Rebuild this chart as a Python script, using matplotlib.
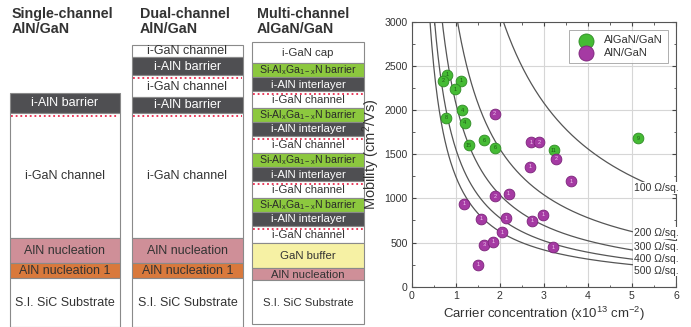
import numpy as np
import matplotlib
matplotlib.use("Agg")
import matplotlib.pyplot as plt
from matplotlib.patches import Rectangle
from matplotlib.ticker import MultipleLocator

plt.rcParams['font.family'] = ['Liberation Sans', 'DejaVu Sans']
plt.rcParams['mathtext.fontset'] = 'custom'
plt.rcParams['mathtext.rm'] = 'Liberation Sans'
plt.rcParams['mathtext.it'] = 'Liberation Sans'
plt.rcParams['mathtext.default'] = 'regular'

# ---------------- data ----------------
# AlGaN/GaN points: carrier concentration (1e13 cm^-2), mobility (cm2/Vs), ref label
algan_n = [0.80, 0.72, 1.12, 0.98, 1.15, 0.78, 1.20, 1.29, 1.65, 1.89, 3.22, 5.14]
algan_mu = [2400, 2330, 2330, 2235, 1997, 1913, 1857, 1602, 1659, 1572, 1545, 1678]
algan_lab = ["1", "2", "1", "1", "4", "8", "4", "15", "6", "6", "11", "9"]

aln_n = [1.88, 2.71, 2.90, 3.28, 2.69, 3.61, 1.19, 1.89, 2.20, 1.57, 2.14, 2.73,
         2.99, 2.06, 1.64, 1.84, 3.20, 1.50]
aln_mu = [1959, 1636, 1636, 1451, 1358, 1193, 940, 1023, 1050, 769, 777, 747,
          815, 614, 474, 511, 447, 247]
aln_lab = ["2", "1", "2", "2", "1", "1", "1", "2", "1", "1", "1", "1",
           "1", "1", "3", "1", "1", "1"]

# iso sheet-resistance curves (ohm/sq) and label positions
rsh_values = [100, 200, 300, 400, 500]
rsh_label_y = [1118, 607, 448, 311, 182]

x_ticks = [0, 1, 2, 3, 4, 5, 6]
y_ticks = [0, 500, 1000, 1500, 2000, 2500, 3000]

# layer stacks: (name, height px, style)
DARK, WHITE, PINK, ORANGE, GREEN, YELLOW = "dark", "white", "pink", "orange", "green", "yellow"
stack_single = [("i-AlN barrier", 20, DARK), ("i-GaN channel", 125, WHITE),
                ("AlN nucleation", 25, PINK), ("AlN nucleation 1", 15, ORANGE),
                ("S.I. SiC Substrate", 49, WHITE)]
stack_dual = [("i-GaN channel", 12, WHITE), ("i-AlN barrier", 18, DARK),
              ("i-GaN channel", 22, WHITE), ("i-AlN barrier", 16, DARK),
              ("i-GaN channel", 125, WHITE), ("AlN nucleation", 25, PINK),
              ("AlN nucleation 1", 15, ORANGE), ("S.I. SiC Substrate", 49, WHITE)]
barrier_txt = "Si-Al$_{x}$Ga$_{1-x}$N barrier"
stack_multi = [("i-GaN cap", 21, WHITE)]
for i in range(4):
    stack_multi += [(barrier_txt, 14, GREEN), ("i-AlN interlayer", 14, DARK),
                    ("i-GaN channel", 17, WHITE)]
stack_multi += [("GaN buffer", 25, YELLOW), ("AlN nucleation", 12, PINK),
                ("S.I. SiC Substrate", 44, WHITE)]

titles = ["Single-channel\nAlN/GaN", "Dual-channel\nAlN/GaN", "Multi-channel\nAlGaN/GaN"]

# ---------------- styling ----------------
fill = {DARK: "#4f4f52", WHITE: "#ffffff", PINK: "#cf8f98", ORANGE: "#d9793c",
        GREEN: "#8cc83e", YELLOW: "#f6f1a4"}
tcol = {DARK: "white", WHITE: "#333333", PINK: "#333333", ORANGE: "#333333",
        GREEN: "#2a2a2a", YELLOW: "#333333"}

W, H = 691, 327
fig = plt.figure(figsize=(W / 100, H / 100), dpi=100)

axL = fig.add_axes([0, 0, 1, 1])
axL.set_xlim(0, W)
axL.set_ylim(H, 0)
axL.axis("off")

columns = [
    (stack_single, 10, 120, 93, 9, 12),
    (stack_dual, 132, 243, 45, 9, 140),
    (stack_multi, 252, 364, 42, 8.2, 257),
]
for ci, (stack, x0, x1, top, fs, tx) in enumerate(columns):
    axL.text(tx, 7, titles[ci], ha="left", va="top", fontsize=10.3,
             fontweight="bold", color="#333333", linespacing=1.12)
    y = top
    for name, h, st in stack:
        axL.add_patch(Rectangle((x0, y), x1 - x0, h, facecolor=fill[st],
                                edgecolor="#8a8a8a", lw=0.8))
        size = fs
        if st == GREEN:
            size = 7.6
        axL.text((x0 + x1) / 2, y + h / 2 + 0.5, name, ha="center", va="center",
                 fontsize=size, color=tcol[st])
        if st == DARK:
            axL.plot([x0 + 1, x1 - 1], [y + h + 3, y + h + 3], color="#e8294c",
                     lw=1.3, ls=(0, (1, 1.6)))
        y += h

# ---------------- scatter ----------------
ax = fig.add_axes([0.5958, 0.1232, 0.9783 - 0.5958, 0.9336 - 0.1232])
ax.set_xlim(0, 6)
ax.set_ylim(0, 3000)
ax.set_xticks(x_ticks)
ax.set_yticks(y_ticks)
ax.xaxis.set_minor_locator(MultipleLocator(0.5))
ax.yaxis.set_minor_locator(MultipleLocator(250))
ax.grid(True, which="major", color="#d6d6d6", lw=0.8)
ax.set_axisbelow(True)
ax.tick_params(which="both", direction="in", top=True, right=True,
               colors="#444444", labelsize=7.6, labelcolor="#333333", pad=3)
ax.tick_params(which="major", length=3)
ax.tick_params(which="minor", length=1.8)
for s in ax.spines.values():
    s.set_color("#555555")
    s.set_linewidth(0.8)

q = 1.602e-19
n_curve = np.linspace(0.3, 6, 400)
for r, ly in zip(rsh_values, rsh_label_y):
    mu = 1.0 / (q * n_curve * 1e13 * r)
    ax.plot(n_curve, mu, color="#555555", lw=0.9, zorder=2)
    ax.text(5.05, ly, f"{r} \u03a9/sq.", fontsize=7.5, color="#333333",
            ha="left", va="center", zorder=3,
            bbox=dict(facecolor="white", edgecolor="none", pad=0.6))

ax.scatter(algan_n, algan_mu, s=60, color="#45bb34", edgecolor="#2f8a25",
           lw=0.6, zorder=4, label="AlGaN/GaN")
ax.scatter(aln_n, aln_mu, s=60, color="#a53aa3", edgecolor="#7a2379",
           lw=0.6, zorder=4, label="AlN/GaN")
for xs, ys, ls, c in [(algan_n, algan_mu, algan_lab, "#1e5c18"),
                      (aln_n, aln_mu, aln_lab, "#f0c8ef")]:
    for xx, yy, tt in zip(xs, ys, ls):
        ax.text(xx, yy, tt, fontsize=4, ha="center", va="center", color=c, zorder=5)

leg = ax.legend(loc="upper right", fontsize=8, frameon=True, fancybox=False,
                edgecolor="#999999", borderpad=0.5, handletextpad=0.6,
                markerscale=1.4, bbox_to_anchor=(0.99, 0.99), labelspacing=0.2)
leg.get_frame().set_linewidth(0.7)
for t in leg.get_texts():
    t.set_color("#333333")

ax.set_xlabel("Carrier concentration (x10$^{13}$ cm$^{-2}$)", fontsize=9.5,
              color="#333333", labelpad=3)
ax.set_ylabel("Mobility (cm$^{2}$/Vs)", fontsize=10.5, color="#333333", labelpad=2)

fig.savefig("out.png", dpi=100)
